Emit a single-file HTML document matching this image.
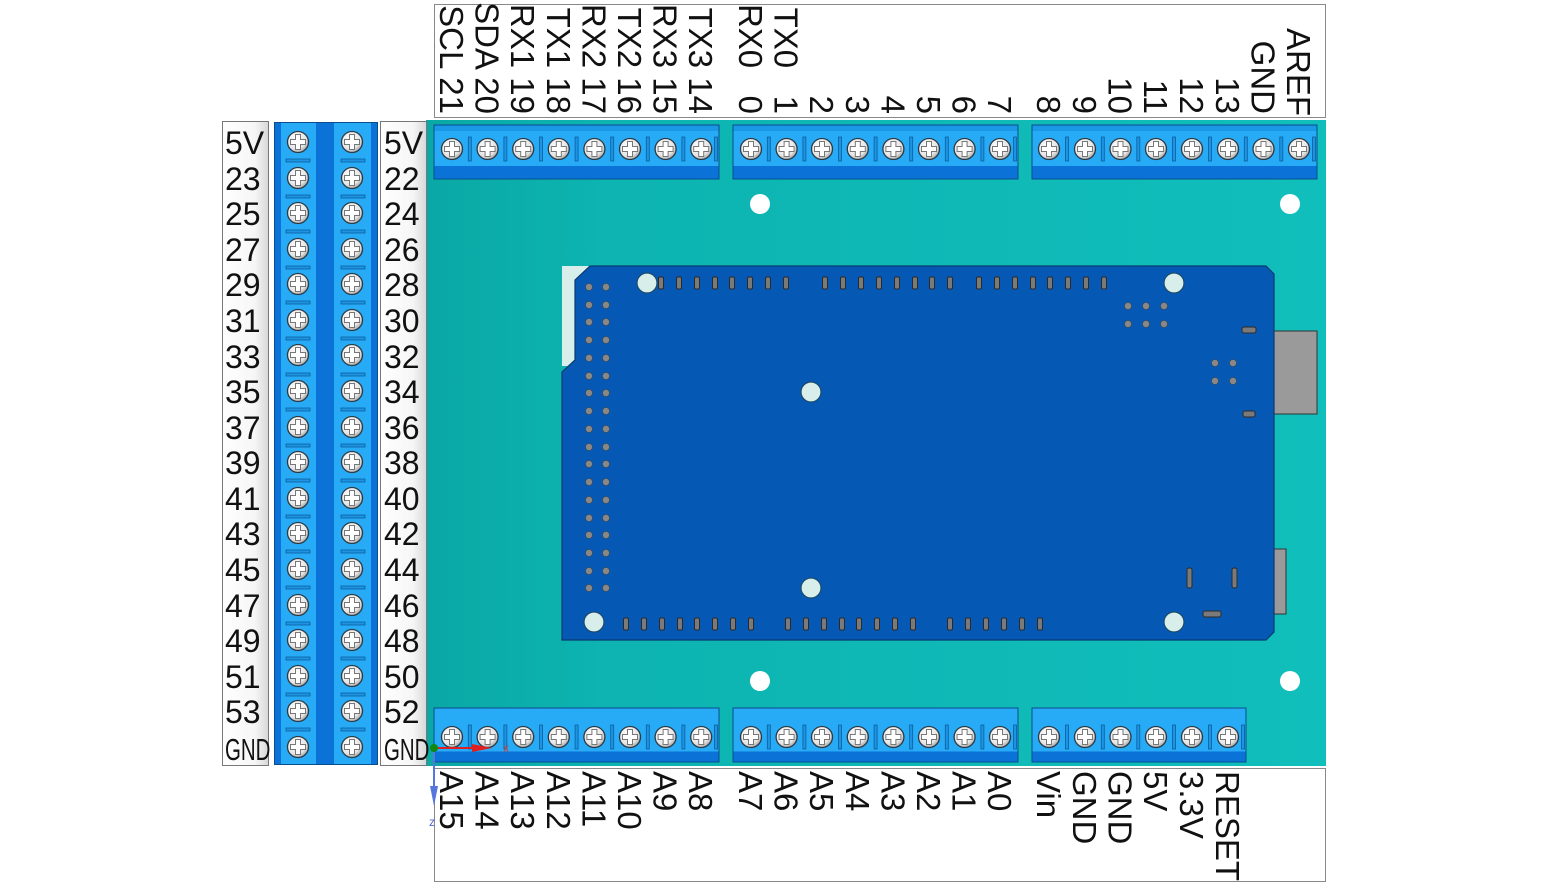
<!DOCTYPE html>
<html><head><meta charset="utf-8"><style>
html,body{margin:0;padding:0;background:#fff;width:1548px;height:886px;overflow:hidden}
svg{display:block}
text{font-family:"Liberation Sans",sans-serif;fill:#111}
</style></head><body>
<svg width="1548" height="886" viewBox="0 0 1548 886" xmlns="http://www.w3.org/2000/svg">
<defs>
<linearGradient id="bg" x1="0" y1="0" x2="1" y2="0"><stop offset="0" stop-color="#0aa8a5"/><stop offset="0.2" stop-color="#0db4b1"/><stop offset="1" stop-color="#10bebb"/></linearGradient>
<radialGradient id="sg" cx="0.4" cy="0.35" r="0.7"><stop offset="0" stop-color="#fff"/><stop offset="0.7" stop-color="#e4e4e4"/><stop offset="1" stop-color="#999"/></radialGradient>
<linearGradient id="lab" x1="0" y1="0" x2="1" y2="0"><stop offset="0" stop-color="#fff"/><stop offset="0.7" stop-color="#f6f6f6"/><stop offset="1" stop-color="#d8d8d8"/></linearGradient>
<g id="s"><circle r="10.5" fill="url(#sg)" stroke="#2b3a44" stroke-width="1.3"/>
<path d="M-2.5,-7.5h5v5h5v5h-5v5h-5v-5h-5v-5h5z" fill="#fff" stroke="#777" stroke-width="1"/></g>
<g id="blk">
<rect x="0" y="0" width="285" height="54" fill="#0b72d8" stroke="#0a4d8c" stroke-width="1"/>
<rect x="0.5" y="0.5" width="284" height="6" fill="#1a98e6"/>
<rect x="0.5" y="6" width="284" height="35" fill="#28abf6"/>
</g>
<g id="bblk">
<rect x="0" y="0" width="285" height="54" fill="#0b72d8" stroke="#0a4d8c" stroke-width="1"/>
<rect x="0.5" y="0.5" width="284" height="43" fill="#28abf6"/>
</g>
<g id="sep"><rect x="-1.5" y="-12" width="3" height="24" fill="#1c94e2" stroke="#0d5e9e" stroke-width="0.8"/></g>
<g id="pad"><rect x="-2.5" y="-6" width="5" height="12" rx="1.5" fill="#7a7a7a" stroke="#2a2a2a" stroke-width="1"/></g>
<g id="dot"><circle r="3.5" fill="#888" stroke="#444" stroke-width="0.6"/></g>
<g id="hole"><circle r="10" fill="#d8eeea" stroke="#1d4a6a" stroke-width="1.2"/></g>
</defs>

<rect x="426" y="120" width="900" height="646" fill="url(#bg)"/>

<rect x="434.5" y="4.5" width="891" height="113" fill="#fff" stroke="#888"/>
<rect x="434.5" y="768.5" width="891" height="113" fill="#fff" stroke="#888"/>
<rect x="222.5" y="121.5" width="46" height="644" fill="url(#lab)" stroke="#777"/>
<rect x="380.5" y="121.5" width="46" height="644" fill="url(#lab)" stroke="#777"/>

<g font-size="33" text-anchor="end">
<text transform="translate(440,114) rotate(90)">SCL 21</text>
<text transform="translate(475.6,114) rotate(90)">SDA 20</text>
<text transform="translate(511.2,114) rotate(90)">RX1 19</text>
<text transform="translate(546.8,114) rotate(90)">TX1 18</text>
<text transform="translate(582.4,114) rotate(90)">RX2 17</text>
<text transform="translate(618,114) rotate(90)">TX2 16</text>
<text transform="translate(653.6,114) rotate(90)">RX3 15</text>
<text transform="translate(689.2,114) rotate(90)">TX3 14</text>
<text transform="translate(739,114) rotate(90)" xml:space="preserve">RX0   0</text>
<text transform="translate(774.6,114) rotate(90)" xml:space="preserve">TX0   1</text>
<text transform="translate(810,114) rotate(90)">2</text>
<text transform="translate(845.8,114) rotate(90)">3</text>
<text transform="translate(881.4,114) rotate(90)">4</text>
<text transform="translate(917,114) rotate(90)">5</text>
<text transform="translate(952.6,114) rotate(90)">6</text>
<text transform="translate(988,114) rotate(90)">7</text>
<text transform="translate(1037,114) rotate(90)">8</text>
<text transform="translate(1073,114) rotate(90)">9</text>
<text transform="translate(1108.5,114) rotate(90)">10</text>
<text transform="translate(1144,114) rotate(90)">11</text>
<text transform="translate(1180,114) rotate(90)">12</text>
<text transform="translate(1216,114) rotate(90)">13</text>
<text transform="translate(1251.5,114) rotate(90)">GND</text>
<text transform="translate(1287,116) rotate(90)">AREF</text>
</g>

<g font-size="33">
<text transform="translate(440,771) rotate(90)">A15</text>
<text transform="translate(475.6,771) rotate(90)">A14</text>
<text transform="translate(511.2,771) rotate(90)">A13</text>
<text transform="translate(546.8,771) rotate(90)">A12</text>
<text transform="translate(582.4,771) rotate(90)">A11</text>
<text transform="translate(618,771) rotate(90)">A10</text>
<text transform="translate(653.6,771) rotate(90)">A9</text>
<text transform="translate(689.2,771) rotate(90)">A8</text>
<text transform="translate(739,771) rotate(90)">A7</text>
<text transform="translate(774.6,771) rotate(90)">A6</text>
<text transform="translate(810,771) rotate(90)">A5</text>
<text transform="translate(845.8,771) rotate(90)">A4</text>
<text transform="translate(881.4,771) rotate(90)">A3</text>
<text transform="translate(917,771) rotate(90)">A2</text>
<text transform="translate(952.6,771) rotate(90)">A1</text>
<text transform="translate(988,771) rotate(90)">A0</text>
<text transform="translate(1037,771) rotate(90)">Vin</text>
<text transform="translate(1073,771) rotate(90)">GND</text>
<text transform="translate(1108.5,771) rotate(90)">GND</text>
<text transform="translate(1144,771) rotate(90)">5V</text>
<text transform="translate(1180,771) rotate(90)">3.3V</text>
<text transform="translate(1216,771) rotate(90)">RESET</text>
</g>

<g font-size="32">
<text x="225" y="154">5V</text><text x="225" y="190">23</text><text x="225" y="225">25</text><text x="225" y="261">27</text>
<text x="225" y="296">29</text><text x="225" y="332">31</text><text x="225" y="368">33</text><text x="225" y="403">35</text>
<text x="225" y="439">37</text><text x="225" y="474">39</text><text x="225" y="510">41</text><text x="225" y="545">43</text>
<text x="225" y="581">45</text><text x="225" y="617">47</text><text x="225" y="652">49</text><text x="225" y="688">51</text>
<text x="225" y="723">53</text>
<text x="384" y="154">5V</text><text x="384" y="190">22</text><text x="384" y="225">24</text><text x="384" y="261">26</text>
<text x="384" y="296">28</text><text x="384" y="332">30</text><text x="384" y="368">32</text><text x="384" y="403">34</text>
<text x="384" y="439">36</text><text x="384" y="474">38</text><text x="384" y="510">40</text><text x="384" y="545">42</text>
<text x="384" y="581">44</text><text x="384" y="617">46</text><text x="384" y="652">48</text><text x="384" y="688">50</text>
<text x="384" y="723">52</text>
</g>
<g font-size="31"><text transform="translate(225,760) scale(0.66,1)">GND</text><text transform="translate(384,760) scale(0.66,1)">GND</text></g>

<rect x="274.5" y="122.5" width="103" height="642" fill="#28abf6" stroke="#0a4d8c"/>
<rect x="275" y="123" width="6" height="641" fill="#0b72d8"/>
<rect x="316" y="123" width="18" height="641" fill="#0b72d8"/>
<rect x="371" y="123" width="6" height="641" fill="#0b72d8"/>
<g fill="#1c94e2" stroke="#0d5e9e" stroke-width="0.8">
<rect x="286" y="159" width="24" height="3"/><rect x="341" y="159" width="24" height="3"/>
<rect x="286" y="195" width="24" height="3"/><rect x="341" y="195" width="24" height="3"/>
<rect x="286" y="230" width="24" height="3"/><rect x="341" y="230" width="24" height="3"/>
<rect x="286" y="266" width="24" height="3"/><rect x="341" y="266" width="24" height="3"/>
<rect x="286" y="301" width="24" height="3"/><rect x="341" y="301" width="24" height="3"/>
<rect x="286" y="337" width="24" height="3"/><rect x="341" y="337" width="24" height="3"/>
<rect x="286" y="373" width="24" height="3"/><rect x="341" y="373" width="24" height="3"/>
<rect x="286" y="408" width="24" height="3"/><rect x="341" y="408" width="24" height="3"/>
<rect x="286" y="444" width="24" height="3"/><rect x="341" y="444" width="24" height="3"/>
<rect x="286" y="479" width="24" height="3"/><rect x="341" y="479" width="24" height="3"/>
<rect x="286" y="515" width="24" height="3"/><rect x="341" y="515" width="24" height="3"/>
<rect x="286" y="550" width="24" height="3"/><rect x="341" y="550" width="24" height="3"/>
<rect x="286" y="586" width="24" height="3"/><rect x="341" y="586" width="24" height="3"/>
<rect x="286" y="622" width="24" height="3"/><rect x="341" y="622" width="24" height="3"/>
<rect x="286" y="657" width="24" height="3"/><rect x="341" y="657" width="24" height="3"/>
<rect x="286" y="693" width="24" height="3"/><rect x="341" y="693" width="24" height="3"/>
<rect x="286" y="728" width="24" height="3"/><rect x="341" y="728" width="24" height="3"/>
</g>
<g>
<use href="#s" x="298" y="142"/><use href="#s" x="352" y="142"/>
<use href="#s" x="298" y="178"/><use href="#s" x="352" y="178"/>
<use href="#s" x="298" y="213"/><use href="#s" x="352" y="213"/>
<use href="#s" x="298" y="249"/><use href="#s" x="352" y="249"/>
<use href="#s" x="298" y="284"/><use href="#s" x="352" y="284"/>
<use href="#s" x="298" y="320"/><use href="#s" x="352" y="320"/>
<use href="#s" x="298" y="355"/><use href="#s" x="352" y="355"/>
<use href="#s" x="298" y="391"/><use href="#s" x="352" y="391"/>
<use href="#s" x="298" y="427"/><use href="#s" x="352" y="427"/>
<use href="#s" x="298" y="462"/><use href="#s" x="352" y="462"/>
<use href="#s" x="298" y="498"/><use href="#s" x="352" y="498"/>
<use href="#s" x="298" y="533"/><use href="#s" x="352" y="533"/>
<use href="#s" x="298" y="569"/><use href="#s" x="352" y="569"/>
<use href="#s" x="298" y="605"/><use href="#s" x="352" y="605"/>
<use href="#s" x="298" y="640"/><use href="#s" x="352" y="640"/>
<use href="#s" x="298" y="676"/><use href="#s" x="352" y="676"/>
<use href="#s" x="298" y="711"/><use href="#s" x="352" y="711"/>
<use href="#s" x="298" y="747"/><use href="#s" x="352" y="747"/>
</g>

<use href="#blk" x="434" y="125"/><use href="#blk" x="733" y="125"/><use href="#blk" x="1032" y="125"/>
<g transform="translate(0,149)">
<use href="#sep" x="469.8"/><use href="#sep" x="505.4"/><use href="#sep" x="541"/><use href="#sep" x="576.6"/><use href="#sep" x="612.2"/><use href="#sep" x="647.8"/><use href="#sep" x="683.4"/><use href="#sep" x="716"/>
<use href="#sep" x="768.8"/><use href="#sep" x="804.4"/><use href="#sep" x="840"/><use href="#sep" x="875.6"/><use href="#sep" x="911.2"/><use href="#sep" x="946.8"/><use href="#sep" x="982.4"/><use href="#sep" x="1015"/>
<use href="#sep" x="1067"/><use href="#sep" x="1102.8"/><use href="#sep" x="1138.3"/><use href="#sep" x="1174"/><use href="#sep" x="1210"/><use href="#sep" x="1245.8"/><use href="#sep" x="1281.3"/><use href="#sep" x="1314"/>
<use href="#s" x="452"/><use href="#s" x="487.6"/><use href="#s" x="523.2"/><use href="#s" x="558.8"/><use href="#s" x="594.4"/><use href="#s" x="630"/><use href="#s" x="665.6"/><use href="#s" x="701.2"/>
<use href="#s" x="751"/><use href="#s" x="786.6"/><use href="#s" x="822"/><use href="#s" x="857.8"/><use href="#s" x="893.4"/><use href="#s" x="929"/><use href="#s" x="964.6"/><use href="#s" x="1000"/>
<use href="#s" x="1049"/><use href="#s" x="1085"/><use href="#s" x="1120.5"/><use href="#s" x="1156"/><use href="#s" x="1192"/><use href="#s" x="1228"/><use href="#s" x="1263.5"/><use href="#s" x="1299"/>
</g>

<use href="#bblk" x="434" y="708"/><use href="#bblk" x="733" y="708"/>
<g><rect x="1032" y="708" width="214" height="54" fill="#0b72d8" stroke="#0a4d8c"/><rect x="1032.5" y="708.5" width="213" height="43" fill="#28abf6"/></g>
<g transform="translate(0,737)">
<use href="#sep" x="469.8"/><use href="#sep" x="505.4"/><use href="#sep" x="541"/><use href="#sep" x="576.6"/><use href="#sep" x="612.2"/><use href="#sep" x="647.8"/><use href="#sep" x="683.4"/><use href="#sep" x="716"/>
<use href="#sep" x="768.8"/><use href="#sep" x="804.4"/><use href="#sep" x="840"/><use href="#sep" x="875.6"/><use href="#sep" x="911.2"/><use href="#sep" x="946.8"/><use href="#sep" x="982.4"/><use href="#sep" x="1015"/>
<use href="#sep" x="1067"/><use href="#sep" x="1102.8"/><use href="#sep" x="1138.3"/><use href="#sep" x="1174"/><use href="#sep" x="1210"/><use href="#sep" x="1243"/>
<use href="#s" x="452"/><use href="#s" x="487.6"/><use href="#s" x="523.2"/><use href="#s" x="558.8"/><use href="#s" x="594.4"/><use href="#s" x="630"/><use href="#s" x="665.6"/><use href="#s" x="701.2"/>
<use href="#s" x="751"/><use href="#s" x="786.6"/><use href="#s" x="822"/><use href="#s" x="857.8"/><use href="#s" x="893.4"/><use href="#s" x="929"/><use href="#s" x="964.6"/><use href="#s" x="1000"/>
<use href="#s" x="1049"/><use href="#s" x="1085"/><use href="#s" x="1120.5"/><use href="#s" x="1156"/><use href="#s" x="1192"/><use href="#s" x="1228"/>
</g>
<line x1="434" y1="748" x2="480" y2="748" stroke="#e02020" stroke-width="2"/><path d="M472,744 L492,748 L472,752z" fill="#e02020"/>
<text x="503" y="752" font-size="12" style="fill:#d04040">x</text>
<line x1="434" y1="748" x2="434" y2="795" stroke="#5577dd" stroke-width="2"/><path d="M430,786 L434,806 L438,786z" fill="#5577dd"/>
<text x="429" y="826" font-size="12" style="fill:#5566dd">z</text>
<circle cx="434" cy="748" r="4" fill="#118811"/>

<circle cx="760" cy="204" r="10" fill="#fff"/><circle cx="1290" cy="204" r="10" fill="#fff"/>
<circle cx="760" cy="681" r="10" fill="#fff"/><circle cx="1290" cy="681" r="10" fill="#fff"/>

<rect x="562" y="266" width="28" height="100" fill="#d8eeea"/>
<rect x="562" y="615" width="20" height="25" fill="#d8eeea"/>
<rect x="1274" y="331" width="43" height="83" fill="#9a9a9a" stroke="#333"/>
<rect x="1274" y="549" width="12" height="65" fill="#9a9a9a" stroke="#333"/>
<path d="M590,266 L1266,266 L1274,274 L1274,632 L1266,640 L562,640 L562,372 L575,360 L575,280 Z" fill="#0559b5" stroke="#0b3a70" stroke-width="1.2"/>
<g>
<use href="#hole" x="647" y="283"/><use href="#hole" x="1174" y="283"/><use href="#hole" x="811" y="392"/><use href="#hole" x="811" y="588"/><use href="#hole" x="594" y="622"/><use href="#hole" x="1174" y="622"/>
</g>
<g>
<use href="#dot" x="589" y="287"/><use href="#dot" x="606" y="287"/><use href="#dot" x="589" y="305"/><use href="#dot" x="606" y="305"/>
<use href="#dot" x="589" y="322"/><use href="#dot" x="606" y="322"/><use href="#dot" x="589" y="340"/><use href="#dot" x="606" y="340"/>
<use href="#dot" x="589" y="358"/><use href="#dot" x="606" y="358"/><use href="#dot" x="589" y="376"/><use href="#dot" x="606" y="376"/>
<use href="#dot" x="589" y="393"/><use href="#dot" x="606" y="393"/><use href="#dot" x="589" y="411"/><use href="#dot" x="606" y="411"/>
<use href="#dot" x="589" y="429"/><use href="#dot" x="606" y="429"/><use href="#dot" x="589" y="447"/><use href="#dot" x="606" y="447"/>
<use href="#dot" x="589" y="464"/><use href="#dot" x="606" y="464"/><use href="#dot" x="589" y="482"/><use href="#dot" x="606" y="482"/>
<use href="#dot" x="589" y="500"/><use href="#dot" x="606" y="500"/><use href="#dot" x="589" y="518"/><use href="#dot" x="606" y="518"/>
<use href="#dot" x="589" y="535"/><use href="#dot" x="606" y="535"/><use href="#dot" x="589" y="553"/><use href="#dot" x="606" y="553"/>
<use href="#dot" x="589" y="571"/><use href="#dot" x="606" y="571"/><use href="#dot" x="589" y="588"/><use href="#dot" x="606" y="588"/>
<use href="#dot" x="1128" y="306"/><use href="#dot" x="1146" y="306"/><use href="#dot" x="1164" y="306"/>
<use href="#dot" x="1128" y="324"/><use href="#dot" x="1146" y="324"/><use href="#dot" x="1164" y="324"/>
<use href="#dot" x="1215" y="363"/><use href="#dot" x="1233" y="363"/><use href="#dot" x="1215" y="381"/><use href="#dot" x="1233" y="381"/>
</g>
<g transform="translate(0,283)">
<use href="#pad" x="661"/><use href="#pad" x="679"/><use href="#pad" x="697"/><use href="#pad" x="715"/><use href="#pad" x="732"/><use href="#pad" x="750"/><use href="#pad" x="768"/><use href="#pad" x="786"/>
<use href="#pad" x="825"/><use href="#pad" x="843"/><use href="#pad" x="861"/><use href="#pad" x="879"/><use href="#pad" x="897"/><use href="#pad" x="915"/><use href="#pad" x="932"/><use href="#pad" x="950"/>
<use href="#pad" x="979"/><use href="#pad" x="997"/><use href="#pad" x="1015"/><use href="#pad" x="1033"/><use href="#pad" x="1050"/><use href="#pad" x="1068"/><use href="#pad" x="1086"/><use href="#pad" x="1104"/>
</g>
<g transform="translate(0,624)">
<use href="#pad" x="626"/><use href="#pad" x="644"/><use href="#pad" x="662"/><use href="#pad" x="680"/><use href="#pad" x="697"/><use href="#pad" x="715"/><use href="#pad" x="733"/><use href="#pad" x="751"/>
<use href="#pad" x="788"/><use href="#pad" x="806"/><use href="#pad" x="824"/><use href="#pad" x="842"/><use href="#pad" x="859"/><use href="#pad" x="877"/><use href="#pad" x="895"/><use href="#pad" x="913"/>
<use href="#pad" x="950"/><use href="#pad" x="968"/><use href="#pad" x="986"/><use href="#pad" x="1004"/><use href="#pad" x="1022"/><use href="#pad" x="1040"/>
</g>
<rect x="1242" y="327" width="14" height="6" rx="2" fill="#7a7a7a" stroke="#2a2a2a"/>
<rect x="1243" y="411" width="12" height="6" rx="2" fill="#7a7a7a" stroke="#2a2a2a"/>
<rect x="1203" y="611" width="18" height="6" rx="2" fill="#7a7a7a" stroke="#2a2a2a"/>
<rect x="1187" y="568" width="5" height="20" rx="2" fill="#7a7a7a" stroke="#2a2a2a"/>
<rect x="1232" y="568" width="5" height="20" rx="2" fill="#7a7a7a" stroke="#2a2a2a"/>
</svg>
</body></html>
